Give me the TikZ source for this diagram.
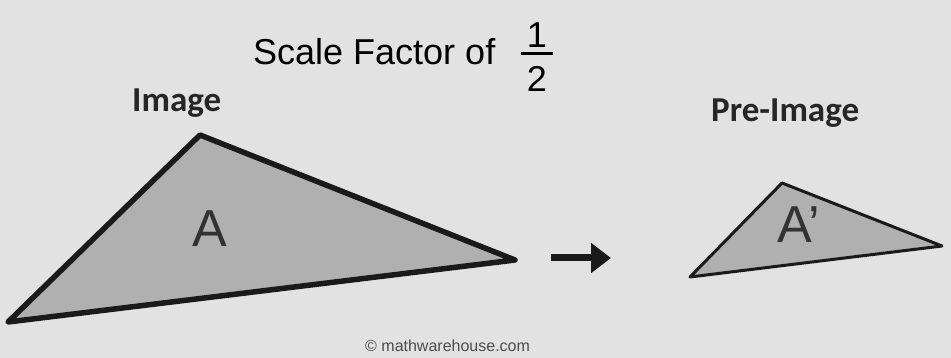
\documentclass[tikz,border=0pt]{standalone}
\usepackage{fontspec}
\setmainfont{Liberation Sans}
\newfontfamily\calib{Carlito}
\usetikzlibrary{arrows.meta}
\definecolor{bg}{HTML}{E2E2E2}
\definecolor{trifill}{HTML}{B0B0B0}
\definecolor{edge}{HTML}{1A1A1A}
\tikzset{
  tri/.style={draw=edge, fill=trifill, line join=round},
  label/.style={inner sep=0pt, font=\calib\bfseries\fontsize{35}{35}\selectfont, text=black!85},
  letter/.style={inner sep=0pt, font=\fontsize{52}{52}\selectfont, text=black!80},
  title/.style={inner sep=0pt, font=\fontsize{36}{36}\selectfont, text=black},
}
\begin{document}
\begin{tikzpicture}[x=1pt,y=-1pt]
\fill[bg] (0,0) rectangle (951,358);
\useasboundingbox (0,0) rectangle (951,358);
% title
\node[title, anchor=base west] (title) at (253,65) {Scale Factor of};
\node[title, anchor=base] (num) at (537,48) {1};
\node[title, anchor=base] (den) at (537,92) {2};
\coordinate (barL) at (521,54);
\coordinate (barR) at (553,54);
\draw[line width=3pt, black] (barL) -- (barR);
% labels
\node[label, anchor=base west] (img) at (132,112) {Image};
\node[label, anchor=base west] (pre) at (711,122) {Pre-Image};
% big triangle
\coordinate (P1) at (8,322);
\coordinate (P2) at (200,135);
\coordinate (P3) at (515,260);
\draw[tri, line width=5.5pt] (P1) -- (P2) -- (P3) -- cycle;
\node[letter, anchor=base] (A) at (210,247) {A};
% small triangle
\coordinate (Q1) at (690,277);
\coordinate (Q2) at (782,183);
\coordinate (Q3) at (942,246);
\draw[tri, line width=3pt] (Q1) -- (Q2) -- (Q3) -- cycle;
\node[letter, anchor=base west] (Ap) at (777,243) {A’};
% arrow
\coordinate (arS) at (551,258);
\coordinate (arE) at (611,258);
\draw[line width=7pt, edge, -{Triangle[length=20pt,width=29pt]}] (arS) -- (arE);
% copyright
\node[inner sep=0pt, anchor=base west, font=\fontsize{16}{16}\selectfont, text=black!70] (copy) at (365,351) {© mathwarehouse.com};
\end{tikzpicture}
\end{document}
